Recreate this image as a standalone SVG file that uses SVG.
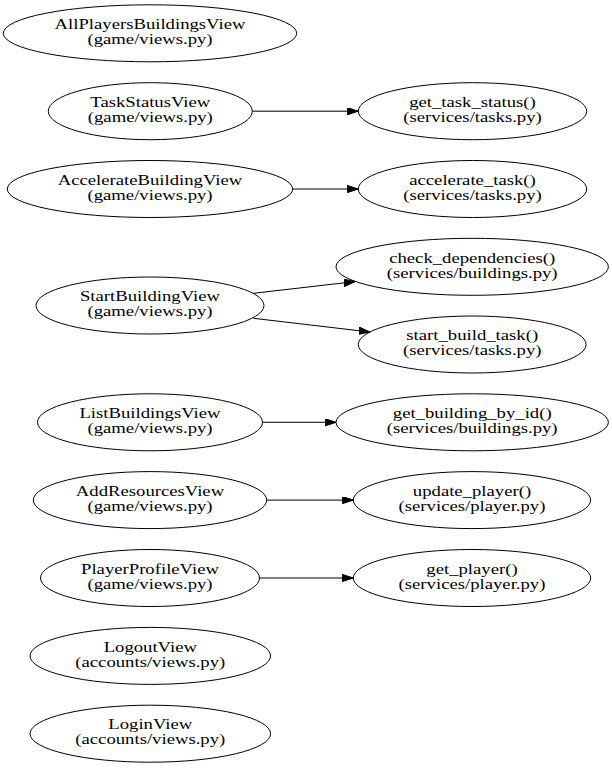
<svg xmlns="http://www.w3.org/2000/svg" width="612" height="768" viewBox="0 0 612 768">
<style>
.n ellipse{fill:none;stroke:#000;stroke-width:1}
.n text{font-family:"Liberation Serif","Times New Roman",serif;font-size:14.5px;text-anchor:middle;fill:#000}
.e path{fill:none;stroke:#000;stroke-width:1;marker-end:url(#ah)}
</style>
<defs>
<marker id="ah" markerUnits="userSpaceOnUse" markerWidth="12" markerHeight="8" refX="11" refY="3.6" orient="auto">
<path d="M0,0 L11,3.6 L0,7.2 z" fill="#000" stroke="#000" stroke-width="1"/>
</marker>
</defs>
<rect width="612" height="768" fill="#fff"/>
<g id="edges" class="e">
<path d="M252.3,111.2 L358.3,111.2"/>
<path d="M292.7,189 L358.3,189"/>
<path d="M253.3,293.3 L355,281.6"/>
<path d="M253.5,318.3 L370,332"/>
<path d="M262.5,422.3 L336,422.3"/>
<path d="M266.7,500.1 L353.3,500.1"/>
<path d="M259.5,578 L353.3,578"/>
</g>
<g id="AllPlayersBuildingsView" class="n"><ellipse cx="150" cy="33.3" rx="146.7" ry="28.5"/><g transform="translate(150 33.3) scale(1.29 1)"><text y="-4.3">AllPlayersBuildingsView</text><text y="10.7">(game/views.py)</text></g></g>
<g id="TaskStatusView" class="n"><ellipse cx="150.3" cy="111.2" rx="102" ry="28.5"/><g transform="translate(150.3 111.2) scale(1.29 1)"><text y="-4.3">TaskStatusView</text><text y="10.7">(game/views.py)</text></g></g>
<g id="AccelerateBuildingView" class="n"><ellipse cx="150" cy="189" rx="142.7" ry="28.5"/><g transform="translate(150 189) scale(1.29 1)"><text y="-4.3">AccelerateBuildingView</text><text y="10.7">(game/views.py)</text></g></g>
<g id="StartBuildingView" class="n"><ellipse cx="150" cy="305.5" rx="114" ry="28.5"/><g transform="translate(150 305.5) scale(1.29 1)"><text y="-4.3">StartBuildingView</text><text y="10.7">(game/views.py)</text></g></g>
<g id="ListBuildingsView" class="n"><ellipse cx="150" cy="422.3" rx="112.5" ry="28.5"/><g transform="translate(150 422.3) scale(1.29 1)"><text y="-4.3">ListBuildingsView</text><text y="10.7">(game/views.py)</text></g></g>
<g id="AddResourcesView" class="n"><ellipse cx="150" cy="500.1" rx="116.7" ry="28.5"/><g transform="translate(150 500.1) scale(1.29 1)"><text y="-4.3">AddResourcesView</text><text y="10.7">(game/views.py)</text></g></g>
<g id="PlayerProfileView" class="n"><ellipse cx="150" cy="578" rx="109.5" ry="28.5"/><g transform="translate(150 578) scale(1.29 1)"><text y="-4.3">PlayerProfileView</text><text y="10.7">(game/views.py)</text></g></g>
<g id="LogoutView" class="n"><ellipse cx="150.3" cy="655.9" rx="120.3" ry="28.5"/><g transform="translate(150.3 655.9) scale(1.29 1)"><text y="-4.3">LogoutView</text><text y="10.7">(accounts/views.py)</text></g></g>
<g id="LoginView" class="n"><ellipse cx="150.3" cy="733.7" rx="120.3" ry="28.5"/><g transform="translate(150.3 733.7) scale(1.29 1)"><text y="-4.3">LoginView</text><text y="10.7">(accounts/views.py)</text></g></g>
<g id="get_task_status" class="n"><ellipse cx="472.5" cy="111.2" rx="114.2" ry="28.5"/><g transform="translate(472.5 111.2) scale(1.29 1)"><text y="-4.3">get_task_status()</text><text y="10.7">(services/tasks.py)</text></g></g>
<g id="accelerate_task" class="n"><ellipse cx="472.5" cy="189" rx="114.2" ry="28.5"/><g transform="translate(472.5 189) scale(1.29 1)"><text y="-4.3">accelerate_task()</text><text y="10.7">(services/tasks.py)</text></g></g>
<g id="check_dependencies" class="n"><ellipse cx="472.2" cy="266.8" rx="136.2" ry="28.5"/><g transform="translate(472.2 266.8) scale(1.29 1)"><text y="-4.3">check_dependencies()</text><text y="10.7">(services/buildings.py)</text></g></g>
<g id="start_build_task" class="n"><ellipse cx="472.2" cy="344.5" rx="113.9" ry="28.5"/><g transform="translate(472.2 344.5) scale(1.29 1)"><text y="-4.3">start_build_task()</text><text y="10.7">(services/tasks.py)</text></g></g>
<g id="get_building_by_id" class="n"><ellipse cx="472.2" cy="422.3" rx="136.2" ry="28.5"/><g transform="translate(472.2 422.3) scale(1.29 1)"><text y="-4.3">get_building_by_id()</text><text y="10.7">(services/buildings.py)</text></g></g>
<g id="update_player" class="n"><ellipse cx="472" cy="500.1" rx="118.7" ry="28.5"/><g transform="translate(472 500.1) scale(1.29 1)"><text y="-4.3">update_player()</text><text y="10.7">(services/player.py)</text></g></g>
<g id="get_player" class="n"><ellipse cx="472" cy="578" rx="118.7" ry="28.5"/><g transform="translate(472 578) scale(1.29 1)"><text y="-4.3">get_player()</text><text y="10.7">(services/player.py)</text></g></g>
</svg>
